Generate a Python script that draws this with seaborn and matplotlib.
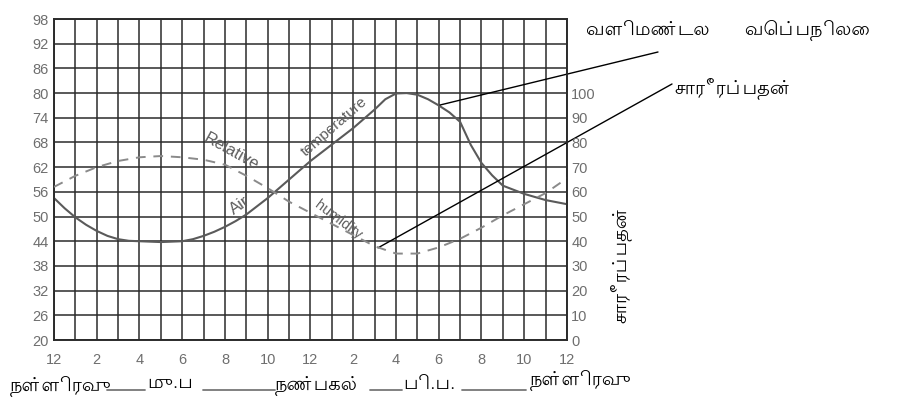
import matplotlib
matplotlib.use("Agg")
import matplotlib.pyplot as plt
import matplotlib.font_manager as fm
import pandas as pd
import seaborn as sns

# ---------------- data ----------------
temp_hours = [0, 0.5, 1, 1.5, 2, 2.5, 3, 3.5, 4, 5, 6, 6.5, 7, 7.5, 8, 8.5, 9, 10, 11, 12, 13,
              14, 15, 15.5, 16, 16.5, 17, 17.5, 18, 18.5, 19, 19.5, 20, 20.5, 21, 21.5, 22, 23, 24]
temp_values = [54.5, 52, 49.8, 48, 46.5, 45.3, 44.5, 44.1, 44, 43.8, 44, 44.5, 45.3, 46.3, 47.5, 48.9,
               50.5, 54.5, 59, 63.5, 67.5, 71.5, 76, 78.5, 79.9, 80, 79.6, 78.5, 77, 75.3, 73,
               67.4, 63, 60, 57.5, 56.5, 55.5, 54, 53]

hum_hours = [0, 1, 2, 3, 4, 5, 6, 7, 8, 9, 10, 11, 12, 13, 14, 15, 16, 17, 18, 19, 20, 21, 22, 23, 24]
hum_values = [62, 66.5, 70, 72.5, 74, 74.5, 74, 73, 71, 66.5, 61.5, 56, 51.5, 47, 42.5, 38, 35, 35,
              37.5, 41, 45.5, 50.5, 55, 59.5, 65.5]

x_ticks = [0, 2, 4, 6, 8, 10, 12, 14, 16, 18, 20, 22, 24]
x_tick_labels = ["12", "2", "4", "6", "8", "10", "12", "2", "4", "6", "8", "10", "12"]
left_ticks = [20, 26, 32, 38, 44, 50, 56, 62, 68, 74, 80, 86, 92, 98]
right_ticks = [0, 10, 20, 30, 40, 50, 60, 70, 80, 90, 100]

label_temp = "வளிமண்டல      வெப்பநிலை"
label_hum = "சாரீரப்பதன்"
right_axis_label = "சாரீரப்பதன்"
bottom_labels = ["நள்ளிரவு", "மு.ப", "நண்பகல்", "பி.ப.", "நள்ளிரவு"]

# ---------------- fonts ----------------
sns.set_style("white")
installed = {f.name for f in fm.fontManager.ttflist}
tamil_choice = [n for n in ["Lohit Tamil", "Hind Madurai", "Mukta Malar", "FreeSans", "FreeSerif"]
                if n in installed]
tamil_fonts = tamil_choice[:1] + ["DejaVu Sans"]
plt.rcParams["font.family"] = ["Liberation Sans", "DejaVu Sans"]

# ---------------- figure ----------------
fig = plt.figure(figsize=(9, 4.08), dpi=100)
ax = fig.add_axes([54 / 900, 1 - 340 / 408, 513 / 900, 321 / 408])
ax2 = ax.twinx()

temp_df = pd.DataFrame({"hour": temp_hours, "temp": temp_values})
hum_df = pd.DataFrame({"hour": hum_hours, "hum": hum_values})

grid_c = "#2b2b2b"
for h in range(0, 25):
    ax.axvline(h, color=grid_c, lw=1.1, zorder=1)
for t in left_ticks:
    ax.axhline(t, color=grid_c, lw=1.1, zorder=1)

sns.lineplot(data=temp_df, x="hour", y="temp", ax=ax, color="#5a5a5a", lw=1.5, zorder=3)
sns.lineplot(data=hum_df, x="hour", y="hum", ax=ax2, color="#8a8a8a", lw=1.4,
             linestyle=(0, (5, 4)), zorder=3)

ax.set_xlim(0, 24)
ax.set_ylim(20, 98)
ax2.set_ylim(0, (98 - 20) / 6 * 10)
ax.set_xticks(x_ticks)
ax.set_xticklabels(x_tick_labels)
ax.set_yticks(left_ticks)
ax2.set_yticks(right_ticks)
ax.set_xlabel("")
ax.set_ylabel("")
ax2.set_ylabel("")
tick_c = "#6e6e6e"
ax.tick_params(axis="y", length=0, labelsize=10.5, colors=tick_c, pad=4)
ax.tick_params(axis="x", length=0, labelsize=10.5, colors=tick_c, pad=9)
ax2.tick_params(axis="y", length=0, labelsize=10.5, colors=tick_c, pad=3)
for a in (ax, ax2):
    for s in a.spines.values():
        s.set_color(grid_c)
        s.set_linewidth(1.2)

# inline English curve labels
lab_c = "#5e5e5e"
ax.text(8.3, 65.8, "Relative", rotation=-29, ha="center", va="center", fontsize=12,
        color=lab_c, zorder=4)
ax.text(13.3, 49.2, "humidity", rotation=-37, ha="center", va="center", fontsize=10.5,
        color=lab_c, zorder=4)
ax.text(8.7, 52.8, "Air", rotation=35, ha="center", va="center", fontsize=12,
        color=lab_c, zorder=4)
ax.text(13.1, 71.8, "temperature", rotation=41, ha="center", va="center", fontsize=11,
        color=lab_c, zorder=4)

# leader lines with Tamil annotations
ax.annotate("", xy=(18.06, 77.1), xycoords="data", xytext=(658 / 900, 1 - 52 / 408),
            textcoords="figure fraction",
            arrowprops=dict(arrowstyle="-", color="black", lw=1, shrinkA=0, shrinkB=0),
            annotation_clip=False)
ax.annotate("", xy=(15.16, 42.4), xycoords="data", xytext=(672 / 900, 1 - 84 / 408),
            textcoords="figure fraction",
            arrowprops=dict(arrowstyle="-", color="black", lw=1, shrinkA=0, shrinkB=0),
            annotation_clip=False)
fig.text(586 / 900, 1 - 30 / 408, label_temp, family=tamil_fonts, fontsize=14,
         ha="left", va="center", color="black")
fig.text(674 / 900, 1 - 88 / 408, label_hum, family=tamil_fonts, fontsize=14,
         ha="left", va="center", color="black")
fig.text(620 / 900, 1 - 264 / 408, right_axis_label, family=tamil_fonts, fontsize=14,
         ha="center", va="center", rotation=90, color="black")

# bottom time-of-day labels
bx = [10, 147, 275, 403, 530]
by = [386, 383, 386, 383, 380]
for x, y, s in zip(bx, by, bottom_labels):
    fig.text(x / 900, 1 - y / 408, s, family=tamil_fonts, fontsize=14, ha="left",
             va="center", color="black")
for x0, x1, y in [(107, 145, 390), (203, 275, 390), (370, 402, 390), (462, 526, 390)]:
    fig.add_artist(plt.Line2D([x0 / 900, x1 / 900], [1 - y / 408, 1 - y / 408],
                              transform=fig.transFigure, color="#777777", lw=1.3))

fig.savefig("out.png", dpi=100, facecolor="white")
